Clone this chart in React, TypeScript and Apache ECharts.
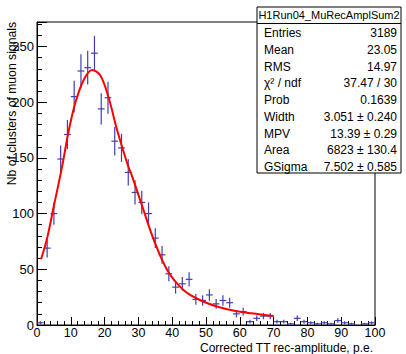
import React, { useEffect, useRef } from "react";
import * as echarts from "echarts";

// Histogram: bin centers (bin width 2) and counts
const binCenters = [1, 3, 5, 7, 9, 11, 13, 15, 17, 19, 21, 23, 25, 27, 29, 31, 33, 35, 37, 39,
  41, 43, 45, 47, 49, 51, 53, 55, 57, 59, 61, 63, 65, 67, 69, 71, 73, 75, 77, 79,
  81, 83, 85, 87, 89, 91, 93, 95, 97, 99];
const counts = [2, 69, 100, 149, 171, 205, 228, 231, 244, 194, 204, 165, 159, 137, 119, 110, 100, 78, 63, 46,
  34, 37, 41, 23, 22, 27, 19, 22, 20, 10, 12, 3, 6, 8, 8, 3, 3, 1, 6, 3,
  2, 1, 2, 1, 4, 2, 1, 0, 1, 2];
const binWidth = 2;

// Fit curve (Landau x Gauss)
const fitX = [1.2, 3, 5, 7.35, 9.3, 11.3, 13.8, 16.3, 18.75, 21.2, 23.7, 26.7, 28.2, 31.2, 34.6, 38.6, 43.5, 48.5, 53.5, 58.4, 63.4, 70];
const fitY = [59, 78, 107, 141, 173, 199, 220, 229, 224, 204, 175, 145, 133, 106, 76, 49, 31, 22, 16.4, 12.8, 10.5, 8];

// Stats box
const statsTitle = "H1Run04_MuRecAmplSum2";
const statsNames = ["Entries", "Mean", "RMS", "\u03c7\u00b2 / ndf", "Prob", "Width", "MPV", "Area", "GSigma"];
const statsValues = ["3189", "23.05", "14.97", "37.47 / 30", "0.1639", "3.051 \u00b1 0.240", "13.39 \u00b1 0.29", "6823 \u00b1 130.4", "7.502 \u00b1 0.585"];

const xTitle = "Corrected TT rec-amplitude, p.e.";
const yTitle = "Nb of clusters of muon signals";

const FONT = "'Liberation Sans', Arial, Helvetica, sans-serif";
const BAR_COLOR = "#3f3fb0";

export default function App() {
  const ref = useRef<HTMLDivElement>(null);
  useEffect(() => {
    if (!ref.current) return;
    const chart = echarts.init(ref.current, null, { renderer: "svg" });
    const boxL = 257, boxR = 401, boxT = 7, boxB = 173;
    const rowY0 = 33, rowDy = 16.75;
    const statGraphics: any[] = [
      { type: "rect", shape: { x: boxL, y: boxT, width: boxR - boxL, height: boxB - boxT }, style: { fill: "#fff", stroke: "#000", lineWidth: 1 }, z: 100 },
      { type: "line", shape: { x1: boxL, y1: 23.5, x2: boxR, y2: 23.5 }, style: { stroke: "#000", lineWidth: 1 }, z: 101 },
      { type: "text", x: (boxL + boxR) / 2, y: 15, style: { text: statsTitle, fontSize: 11, fontFamily: FONT, fill: "#000", align: "center", verticalAlign: "middle" }, z: 101 },
    ];
    statsNames.forEach((n, i) => {
      statGraphics.push({ type: "text", x: 264, y: rowY0 + i * rowDy, style: { text: n, fontSize: 12, fontFamily: FONT, fill: "#000", align: "left", verticalAlign: "middle" }, z: 101 });
      statGraphics.push({ type: "text", x: 397, y: rowY0 + i * rowDy, style: { text: statsValues[i], fontSize: 12, fontFamily: FONT, fill: "#000", align: "right", verticalAlign: "middle" }, z: 101 });
    });

    chart.setOption({
      animation: false,
      backgroundColor: "#fff",
      grid: { left: 37, top: 22, width: 338, height: 303, show: true, borderColor: "#000", borderWidth: 1, backgroundColor: "transparent" },
      xAxis: {
        type: "value", min: 0, max: 100, interval: 10,
        axisLine: { show: true, lineStyle: { color: "#000", width: 1 } },
        axisTick: { show: true, inside: true, length: 8, lineStyle: { color: "#000" } },
        minorTick: { show: true, splitNumber: 5, length: 4, lineStyle: { color: "#000" } },
        axisLabel: { color: "#000", fontSize: 12.5, fontFamily: FONT, margin: 2, lineHeight: 12 },
        splitLine: { show: false },
      },
      yAxis: {
        type: "value", min: 0, max: 272, interval: 50,
        axisLine: { show: true, lineStyle: { color: "#000", width: 1 } },
        axisTick: { show: true, inside: true, length: 10, lineStyle: { color: "#000" } },
        minorTick: { show: true, splitNumber: 5, length: 5, lineStyle: { color: "#000" } },
        axisLabel: { color: "#000", fontSize: 13, fontFamily: FONT, margin: 3, showMaxLabel: false },
        splitLine: { show: false },
      },
      series: [
        {
          type: "custom",
          clip: true,
          data: binCenters.map((c, i) => [c, counts[i]]),
          renderItem: (params: any, api: any) => {
            const x = api.value(0);
            const y = api.value(1);
            if (!(y > 0)) return null;
            const e = Math.sqrt(y);
            const pL = api.coord([x - binWidth / 2, y]);
            const pR = api.coord([x + binWidth / 2, y]);
            const pT = api.coord([x, y + e]);
            const pB = api.coord([x, Math.max(0, y - e)]);
            const st = { stroke: BAR_COLOR, lineWidth: 1.2 };
            return {
              type: "group",
              children: [
                { type: "line", shape: { x1: pL[0], y1: pL[1], x2: pR[0], y2: pR[1] }, style: st },
                { type: "line", shape: { x1: pT[0], y1: pT[1], x2: pB[0], y2: pB[1] }, style: st },
              ],
            };
          },
          z: 2,
        },
        {
          type: "line",
          data: fitX.map((x, i) => [x, fitY[i]]),
          smooth: 0.35,
          showSymbol: false,
          lineStyle: { color: "#ff0000", width: 2 },
          z: 3,
        },
      ],
      graphic: [
        { type: "text", x: 373, y: 347.5, style: { text: xTitle, fontSize: 12, lineHeight: 12, fontFamily: FONT, fill: "#000", align: "right", verticalAlign: "middle" } },
        { type: "text", x: 12, y: 22, rotation: Math.PI / 2, style: { text: yTitle, fontSize: 12.2, fontFamily: FONT, fill: "#000", align: "right", verticalAlign: "middle" } },
        ...statGraphics,
      ],
    });
    return () => chart.dispose();
  }, []);
  return <div ref={ref} style={{ position: "absolute", left: 0, top: 0, width: 406, height: 354, background: "#fff" }} />;
}
